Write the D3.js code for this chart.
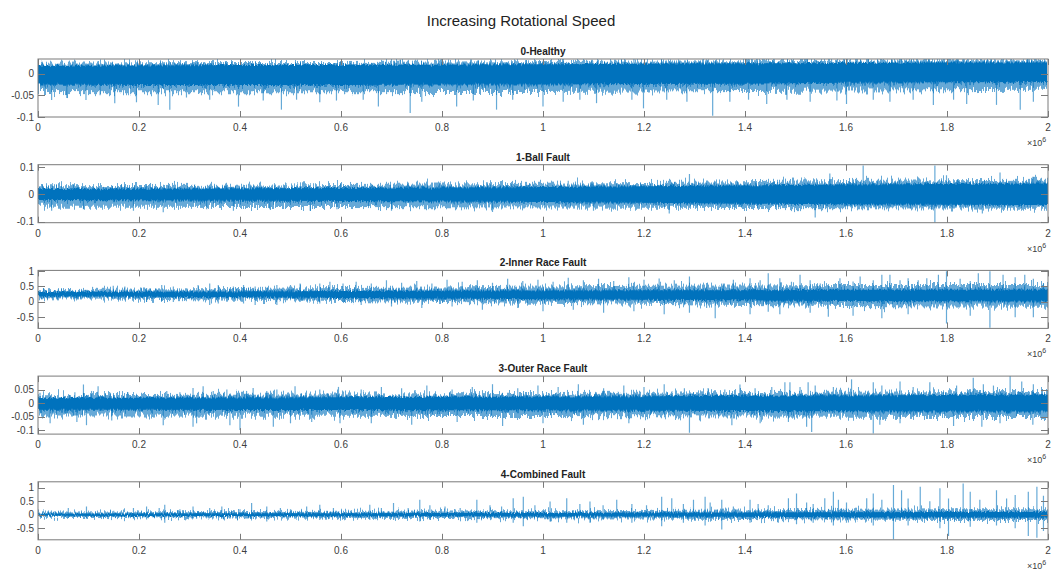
<!DOCTYPE html>
<html>
<head>
<meta charset="utf-8">
<script src="https://cdn.jsdelivr.net/npm/d3@7"></script>
<style>
body { margin: 0; background: #fff; }
text { font-family: "Liberation Sans", Arial, sans-serif; }
</style>
</head>
<body>
<div id="chart"></div>
<script>

var mainTitle = "Increasing Rotational Speed";
var titles = ["0-Healthy", "1-Ball Fault", "2-Inner Race Fault", "3-Outer Race Fault", "4-Combined Fault"];

// x in units of 1e6 samples
var xTicks = [0, 0.2, 0.4, 0.6, 0.8, 1, 1.2, 1.4, 1.6, 1.8, 2];
var yTicks = [[0, -0.05, -0.1], [0.1, 0, -0.1], [1, 0.5, 0, -0.5], [0.05, 0, -0.05, -0.1], [1, 0.5, 0, -0.5]];
var yLimits = [[-0.1, 0.034], [-0.104, 0.109], [-0.857, 1.02], [-0.115, 0.1], [-0.93, 1.22]];

// envelope sample positions
var envPos = [0, 0.2, 0.4, 0.6, 0.8, 1, 1.2, 1.4, 1.6, 1.8, 2];

// 0-Healthy
var healthyHi = [0.018, 0.019, 0.02, 0.02, 0.021, 0.022, 0.023, 0.024, 0.025, 0.026, 0.026];
var healthyLo = [-0.025, -0.026, -0.026, -0.026, -0.025, -0.025, -0.024, -0.023, -0.021, -0.02, -0.019];
var healthyFuzzHi = [0.023, 0.024, 0.025, 0.025, 0.026, 0.027, 0.028, 0.029, 0.03, 0.031, 0.031];
var healthyFuzzLo = [-0.042, -0.043, -0.043, -0.043, -0.042, -0.042, -0.041, -0.04, -0.039, -0.038, -0.037];
var healthyUp = [[0.717, 0.032], [1.0, 0.03], [1.18, 0.034], [0.33, 0.027], [1.55, 0.03], [1.9, 0.031]];
var healthyDown = [[0.027, -0.061], [0.057, -0.056], [0.095, -0.061], [0.123, -0.05], [0.152, -0.068], [0.195, -0.066],
  [0.238, -0.072], [0.261, -0.083], [0.294, -0.055], [0.34, -0.06], [0.397, -0.076], [0.446, -0.062], [0.482, -0.083],
  [0.512, -0.06], [0.558, -0.066], [0.591, -0.062], [0.644, -0.06], [0.674, -0.076], [0.737, -0.091], [0.76, -0.065],
  [0.829, -0.076], [0.862, -0.062], [0.908, -0.083], [0.94, -0.06], [1.0, -0.076], [1.04, -0.065], [1.073, -0.06],
  [1.106, -0.068], [1.176, -0.06], [1.199, -0.08], [1.245, -0.06], [1.285, -0.065], [1.336, -0.097], [1.37, -0.065],
  [1.407, -0.06], [1.443, -0.07], [1.483, -0.06], [1.529, -0.065], [1.582, -0.062], [1.601, -0.07], [1.654, -0.06],
  [1.687, -0.065], [1.733, -0.06], [1.773, -0.072], [1.813, -0.06], [1.839, -0.07], [1.898, -0.072], [1.945, -0.083],
  [1.971, -0.065]];

// 1-Ball Fault
var ballHi = [0.02, 0.021, 0.022, 0.023, 0.025, 0.027, 0.03, 0.033, 0.036, 0.038, 0.04];
var ballLo = [-0.021, -0.022, -0.023, -0.024, -0.026, -0.028, -0.031, -0.034, -0.036, -0.038, -0.039];
var ballFuzzHi = [0.03, 0.031, 0.032, 0.034, 0.036, 0.039, 0.042, 0.045, 0.049, 0.052, 0.054];
var ballFuzzLo = [-0.045, -0.045, -0.046, -0.046, -0.047, -0.048, -0.049, -0.05, -0.051, -0.052, -0.053];
var ballUp = [[0.85, 0.045], [1.05, 0.05], [1.29, 0.075], [1.568, 0.077], [1.634, 0.106], [1.776, 0.106],
  [1.799, 0.07], [1.905, 0.08], [1.97, 0.065]];
var ballDown = [[0.027, -0.06], [0.09, -0.055], [0.189, -0.06], [0.248, -0.066], [0.334, -0.055], [0.387, -0.06],
  [0.459, -0.055], [0.539, -0.06], [0.592, -0.055], [0.7, -0.06], [0.9, -0.065], [1.1, -0.06], [1.25, -0.07],
  [1.539, -0.085], [1.776, -0.104], [1.87, -0.07]];

// 2-Inner Race Fault
var innerHi = [0.32, 0.33, 0.34, 0.35, 0.36, 0.37, 0.38, 0.38, 0.39, 0.39, 0.39];
var innerLo = [0.18, 0.17, 0.15, 0.13, 0.11, 0.09, 0.07, 0.05, 0.03, 0.02, 0.01];
var innerFuzzHi = [0.38, 0.4, 0.42, 0.45, 0.47, 0.5, 0.52, 0.53, 0.55, 0.55, 0.55];
var innerFuzzLo = [0.12, 0.1, 0.07, 0.03, 0.0, -0.03, -0.06, -0.1, -0.13, -0.15, -0.16];
var innerUp = [[0.011, 0.45], [0.04, 0.4], [0.087, 0.38], [0.123, 0.42], [0.149, 0.52], [0.172, 0.5], [0.215, 0.45],
  [0.245, 0.55], [0.268, 0.5], [0.317, 0.55], [0.34, 0.6], [0.357, 0.55], [0.387, 0.5], [0.407, 0.55], [0.43, 0.5],
  [0.473, 0.55], [0.5, 0.55], [0.519, 0.6], [0.558, 0.6], [0.578, 0.65], [0.604, 0.6], [0.63, 0.65], [0.66, 0.6],
  [0.69, 0.7], [0.72, 0.62], [0.75, 0.68], [0.78, 0.6], [0.81, 0.72], [0.84, 0.65], [0.87, 0.7], [0.9, 0.62],
  [0.93, 0.75], [0.96, 0.68], [0.99, 0.72], [1.02, 0.65], [1.05, 0.78], [1.08, 0.7], [1.11, 0.75], [1.14, 0.68],
  [1.17, 0.8], [1.2, 0.72], [1.23, 0.76], [1.26, 0.7], [1.29, 0.82], [1.324, 0.61], [1.357, 0.6], [1.377, 0.72],
  [1.41, 0.77], [1.43, 0.7], [1.446, 0.93], [1.469, 0.77], [1.492, 0.65], [1.509, 0.88], [1.529, 0.7], [1.549, 0.6],
  [1.588, 0.77], [1.614, 0.66], [1.628, 0.82], [1.654, 0.7], [1.671, 0.88], [1.687, 0.88], [1.707, 0.7],
  [1.723, 0.77], [1.743, 0.7], [1.76, 0.77], [1.783, 0.88], [1.799, 0.99], [1.826, 0.75], [1.846, 0.68],
  [1.862, 0.93], [1.885, 0.99], [1.911, 0.88], [1.935, 0.8], [1.954, 0.88], [1.971, 0.75], [1.991, 0.6]];
var innerDown = [[0.011, 0.12], [0.149, 0.08], [0.172, 0.05], [0.215, 0.0], [0.245, 0.05], [0.268, 0.0],
  [0.34, -0.1], [0.357, -0.05], [0.407, -0.05], [0.43, -0.1], [0.473, -0.1], [0.519, 0.0], [0.558, -0.05],
  [0.604, 0.0], [0.64, -0.1], [0.7, -0.15], [0.76, -0.2], [0.82, -0.15], [0.88, -0.25], [0.95, -0.2], [1.0, -0.3],
  [1.06, -0.25], [1.12, -0.35], [1.18, -0.3], [1.24, -0.4], [1.29, -0.35], [1.324, -0.2], [1.341, -0.53],
  [1.41, -0.4], [1.446, -0.32], [1.469, -0.4], [1.529, -0.35], [1.565, -0.48], [1.614, -0.45], [1.671, -0.53],
  [1.723, -0.4], [1.799, -0.7], [1.846, -0.45], [1.885, -0.84], [1.935, -0.5], [1.971, -0.5]];

// 3-Outer Race Fault
var outerHi = [0.019, 0.02, 0.021, 0.022, 0.023, 0.024, 0.025, 0.027, 0.028, 0.03, 0.031];
var outerLo = [-0.025, -0.025, -0.026, -0.026, -0.027, -0.027, -0.028, -0.029, -0.03, -0.031, -0.031];
var outerFuzzHi = [0.029, 0.03, 0.031, 0.032, 0.033, 0.034, 0.035, 0.037, 0.038, 0.04, 0.041];
var outerFuzzLo = [-0.046, -0.046, -0.047, -0.047, -0.048, -0.048, -0.049, -0.05, -0.051, -0.052, -0.052];
var outerUp = [[0.004, 0.038], [0.073, 0.04], [0.09, 0.069], [0.106, 0.045], [0.119, 0.062], [0.178, 0.04],
  [0.255, 0.045], [0.281, 0.04], [0.307, 0.056], [0.327, 0.062], [0.347, 0.045], [0.374, 0.05], [0.413, 0.045],
  [0.426, 0.056], [0.453, 0.045], [0.473, 0.05], [0.509, 0.062], [0.558, 0.05], [0.595, 0.06], [0.64, 0.05],
  [0.68, 0.06], [0.72, 0.055], [0.77, 0.065], [0.82, 0.05], [0.86, 0.06], [0.9, 0.07], [0.95, 0.055], [0.99, 0.065],
  [1.03, 0.06], [1.07, 0.07], [1.12, 0.055], [1.16, 0.065], [1.2, 0.06], [1.24, 0.07], [1.28, 0.055],
  [1.327, 0.056], [1.36, 0.05], [1.39, 0.069], [1.42, 0.055], [1.453, 0.06], [1.479, 0.077], [1.489, 0.077],
  [1.509, 0.06], [1.525, 0.077], [1.539, 0.065], [1.575, 0.06], [1.611, 0.088], [1.654, 0.077], [1.671, 0.065],
  [1.707, 0.08], [1.733, 0.06], [1.766, 0.077], [1.819, 0.065], [1.852, 0.094], [1.872, 0.07], [1.892, 0.065],
  [1.925, 0.1], [1.948, 0.08], [1.971, 0.07]];
var outerDown = [[0.024, -0.075], [0.077, -0.07], [0.096, -0.082], [0.146, -0.065], [0.248, -0.082],
  [0.307, -0.088], [0.314, -0.075], [0.38, -0.082], [0.4, -0.1], [0.466, -0.088], [0.5, -0.075], [0.542, -0.07],
  [0.598, -0.075], [0.66, -0.075], [0.74, -0.08], [0.83, -0.07], [0.92, -0.085], [1.0, -0.075], [1.08, -0.08],
  [1.17, -0.075], [1.29, -0.11], [1.374, -0.082], [1.43, -0.075], [1.486, -0.07], [1.522, -0.088], [1.532, -0.107],
  [1.654, -0.113], [1.667, -0.08], [1.707, -0.075], [1.813, -0.085], [1.869, -0.088], [1.905, -0.075],
  [1.97, -0.08]];

// 4-Combined Fault
var combinedHi = [0.04, 0.045, 0.05, 0.055, 0.06, 0.065, 0.07, 0.08, 0.09, 0.1, 0.1];
var combinedLo = [-0.04, -0.045, -0.05, -0.055, -0.06, -0.065, -0.07, -0.08, -0.09, -0.1, -0.1];
var combinedFuzzHi = [0.08, 0.09, 0.1, 0.11, 0.12, 0.13, 0.14, 0.16, 0.18, 0.2, 0.2];
var combinedFuzzLo = [-0.08, -0.09, -0.1, -0.11, -0.12, -0.13, -0.14, -0.16, -0.18, -0.2, -0.2];
var combinedUp = [[0.06, 0.25], [0.096, 0.3], [0.15, 0.15], [0.189, 0.25], [0.215, 0.3], [0.24, 0.25],
  [0.251, 0.37], [0.281, 0.2], [0.307, 0.3], [0.34, 0.25], [0.364, 0.3], [0.4, 0.2], [0.423, 0.43], [0.453, 0.3],
  [0.48, 0.25], [0.5, 0.2], [0.532, 0.3], [0.558, 0.37], [0.585, 0.25], [0.657, 0.37], [0.68, 0.25], [0.704, 0.43],
  [0.733, 0.25], [0.756, 0.55], [0.776, 0.35], [0.806, 0.3], [0.836, 0.25], [0.869, 0.55], [0.895, 0.35],
  [0.918, 0.3], [0.941, 0.61], [0.961, 0.67], [0.984, 0.35], [1.014, 0.49], [1.047, 0.61], [1.073, 0.4],
  [1.093, 0.49], [1.119, 0.35], [1.146, 0.55], [1.176, 0.4], [1.205, 0.35], [1.235, 0.67], [1.255, 0.61],
  [1.278, 0.4], [1.298, 0.55], [1.321, 0.67], [1.331, 0.45], [1.354, 0.55], [1.377, 0.3], [1.41, 0.55],
  [1.426, 0.4], [1.446, 0.35], [1.486, 0.61], [1.502, 0.79], [1.522, 0.45], [1.535, 0.4], [1.558, 0.61],
  [1.575, 0.85], [1.585, 0.55], [1.601, 0.45], [1.641, 0.61], [1.654, 0.79], [1.671, 0.55], [1.694, 1.1],
  [1.71, 0.91], [1.723, 0.6], [1.747, 1.04], [1.766, 0.5], [1.786, 0.98], [1.803, 0.6], [1.832, 1.16],
  [1.846, 0.85], [1.865, 0.55], [1.898, 0.91], [1.918, 0.6], [1.935, 0.73], [1.961, 0.85], [1.978, 1.04],
  [1.991, 0.7]];
var combinedDown = [[0.06, -0.12], [0.096, -0.15], [0.189, -0.15], [0.215, -0.18], [0.251, -0.3], [0.281, -0.1],
  [0.314, -0.15], [0.364, -0.15], [0.423, -0.15], [0.453, -0.25], [0.532, -0.15], [0.558, -0.2], [0.657, -0.2],
  [0.704, -0.2], [0.756, -0.25], [0.776, -0.2], [0.869, -0.3], [0.941, -0.3], [0.961, -0.43], [1.014, -0.25],
  [1.047, -0.3], [1.093, -0.3], [1.176, -0.3], [1.235, -0.43], [1.278, -0.3], [1.321, -0.4], [1.354, -0.55],
  [1.41, -0.3], [1.466, -0.3], [1.502, -0.35], [1.535, -0.3], [1.575, -0.4], [1.601, -0.3], [1.654, -0.4],
  [1.694, -0.92], [1.723, -0.4], [1.786, -0.5], [1.803, -0.79], [1.846, -0.45], [1.898, -0.4], [1.935, -0.5],
  [1.961, -0.79], [1.978, -0.85], [1.991, -0.6]];

var coreHi = [healthyHi, ballHi, innerHi, outerHi, combinedHi];
var coreLo = [healthyLo, ballLo, innerLo, outerLo, combinedLo];
var fuzzHi = [healthyFuzzHi, ballFuzzHi, innerFuzzHi, outerFuzzHi, combinedFuzzHi];
var fuzzLo = [healthyFuzzLo, ballFuzzLo, innerFuzzLo, outerFuzzLo, combinedFuzzLo];
var spikesUp = [healthyUp, ballUp, innerUp, outerUp, combinedUp];
var spikesDown = [healthyDown, ballDown, innerDown, outerDown, combinedDown];

var width = 1053, height = 572;
var left = 38, right = 1048;
var panelTop = 59, panelStep = 105.7, panelH = 58;
var lineColor = "#0072BD", axisColor = "#7a7a7a", textColor = "#404040";

var svg = d3.select("#chart")
    .append("svg")
    .attr("width", width)
    .attr("height", height);

// grainy edges so the bands read like a dense signal trace;
// noise varies along x only, so every column moves as one piece
var defs = svg.append("defs");
function roughFilter(id, scale, seed) {
    var f = defs.append("filter").attr("id", id)
        .attr("filterUnits", "userSpaceOnUse")
        .attr("x", 0).attr("y", 0).attr("width", width).attr("height", height);
    f.append("feTurbulence")
        .attr("type", "fractalNoise")
        .attr("baseFrequency", "0.7 0.004")
        .attr("numOctaves", 2)
        .attr("seed", seed)
        .attr("result", "n");
    f.append("feDisplacementMap")
        .attr("in", "SourceGraphic")
        .attr("in2", "n")
        .attr("scale", scale)
        .attr("xChannelSelector", "B")
        .attr("yChannelSelector", "G");
}
roughFilter("roughUp", 16, 3);
roughFilter("roughDown", 16, 11);
roughFilter("roughCore", 5, 5);

svg.append("text")
    .attr("x", 521)
    .attr("y", 26)
    .attr("text-anchor", "middle")
    .attr("font-size", 15)
    .attr("fill", "#222")
    .text(mainTitle);

var x = d3.scaleLinear().domain([0, 2]).range([left, right]);

titles.forEach(function(title, i) {
    var top = panelTop + i * panelStep;
    var y = d3.scaleLinear().domain(yLimits[i]).range([top + panelH, top]);
    var g = svg.append("g");

    defs.append("clipPath").attr("id", "clip" + i)
        .append("rect")
        .attr("x", left).attr("y", top)
        .attr("width", right - left).attr("height", panelH);

    var plot = g.append("g").attr("clip-path", "url(#clip" + i + ")");

    var idx = d3.range(envPos.length);
    var px = function(k) { return x(envPos[k]); };
    // upper fringe reaches down into the core, lower fringe up into it, so no gap opens
    var fuzzUp = d3.area().x(px)
        .y0(function(k) { return y(coreLo[i][k]); })
        .y1(function(k) { return y(fuzzHi[i][k]); });
    var fuzzDown = d3.area().x(px)
        .y0(function(k) { return y(fuzzLo[i][k]); })
        .y1(function(k) { return y(coreHi[i][k]); });
    var core = d3.area().x(px)
        .y0(function(k) { return y(coreLo[i][k]); })
        .y1(function(k) { return y(coreHi[i][k]); });

    // centre line of the band, used as the base of each spike
    var mid = d3.scaleLinear().domain(envPos)
        .range(envPos.map(function(p, k) { return (coreHi[i][k] + coreLo[i][k]) / 2; }));

    var fringe = plot.append("g").attr("fill", lineColor).attr("fill-opacity", 0.6);
    fringe.append("g").attr("filter", "url(#roughUp)")
        .append("path").attr("d", fuzzUp(idx));
    fringe.append("g").attr("filter", "url(#roughDown)")
        .append("path").attr("d", fuzzDown(idx));

    plot.selectAll("line.spike")
        .data(spikesUp[i].concat(spikesDown[i]))
        .enter()
        .append("line")
        .attr("class", "spike")
        .attr("x1", function(d) { return x(d[0]); })
        .attr("x2", function(d) { return x(d[0]); })
        .attr("y1", function(d) { return y(mid(d[0])); })
        .attr("y2", function(d) { return y(d[1]); })
        .attr("stroke", lineColor)
        .attr("stroke-opacity", 0.6)
        .attr("stroke-width", 1.2);

    plot.append("g").attr("filter", "url(#roughCore)")
        .append("path")
        .attr("d", core(idx))
        .attr("fill", lineColor);

    // box
    g.append("rect")
        .attr("x", left).attr("y", top)
        .attr("width", right - left).attr("height", panelH)
        .attr("fill", "none")
        .attr("stroke", axisColor);

    // x ticks (inward, top and bottom)
    xTicks.forEach(function(t) {
        var tx = Math.round(x(t)) + 0.5;
        g.append("line").attr("x1", tx).attr("x2", tx)
            .attr("y1", top + panelH).attr("y2", top + panelH - 6)
            .attr("stroke", axisColor);
        g.append("line").attr("x1", tx).attr("x2", tx)
            .attr("y1", top).attr("y2", top + 6)
            .attr("stroke", axisColor);
        g.append("text")
            .attr("x", x(t))
            .attr("y", top + panelH + 14)
            .attr("text-anchor", "middle")
            .attr("font-size", 10)
            .attr("fill", textColor)
            .text(d3.format("~g")(t));
    });

    // y ticks (inward, left and right)
    yTicks[i].forEach(function(t) {
        var ty = Math.round(y(t)) + 0.5;
        g.append("line").attr("x1", left).attr("x2", left + 7)
            .attr("y1", ty).attr("y2", ty)
            .attr("stroke", axisColor);
        g.append("line").attr("x1", right).attr("x2", right - 7)
            .attr("y1", ty).attr("y2", ty)
            .attr("stroke", axisColor);
        g.append("text")
            .attr("x", left - 4)
            .attr("y", y(t) + 3.5)
            .attr("text-anchor", "end")
            .attr("font-size", 10)
            .attr("fill", textColor)
            .text(String(t));
    });

    // subplot title
    g.append("text")
        .attr("x", (left + right) / 2)
        .attr("y", top - 4)
        .attr("text-anchor", "middle")
        .attr("font-size", 10)
        .attr("font-weight", "bold")
        .attr("fill", "#222")
        .text(title);

    // exponent label
    var ex = g.append("text")
        .attr("x", 1027)
        .attr("y", top + panelH + 29)
        .attr("font-size", 9)
        .attr("fill", textColor);
    ex.append("tspan").text("\u00d710");
    ex.append("tspan").attr("dy", -4).attr("font-size", 7).text("6");
});

</script>
</body>
</html>
